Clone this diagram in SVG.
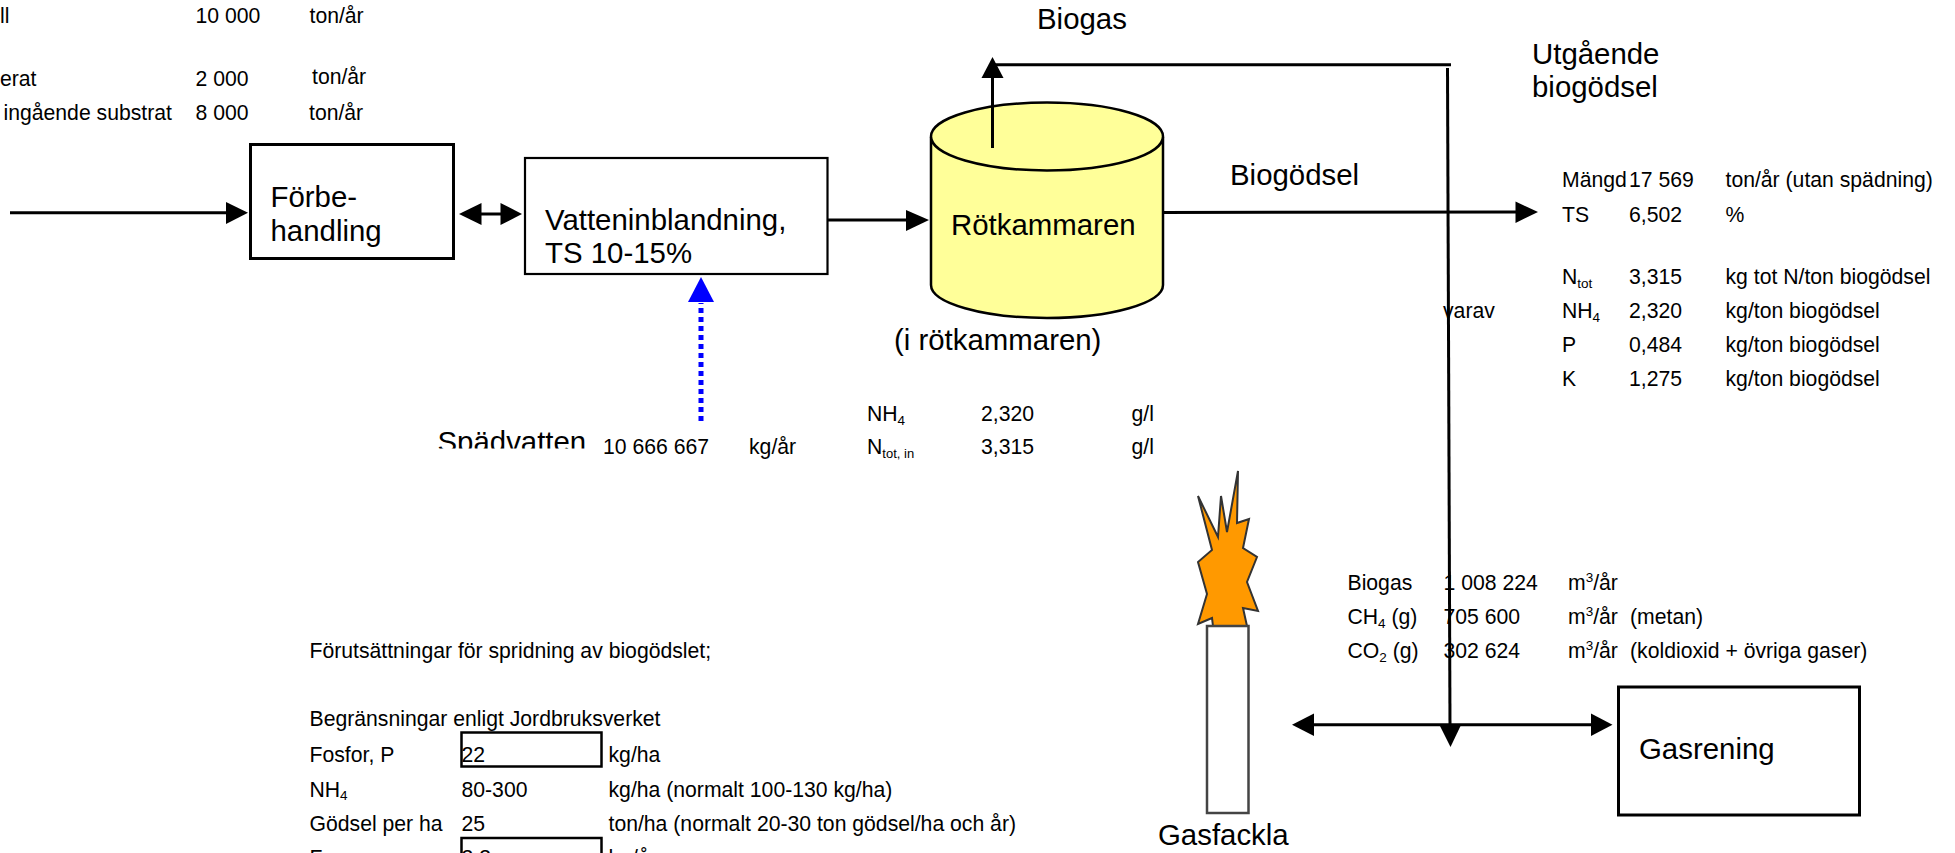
<svg xmlns="http://www.w3.org/2000/svg" width="1955" height="853" viewBox="0 0 1955 853">
<style>
text{font-family:"Liberation Sans",Arial,sans-serif;fill:#000}
.s{font-size:21.2px}
.l{font-size:29.4px}
.n{fill:#fff;stroke:#000;stroke-width:3}
.t{fill:#fff;stroke:#000;stroke-width:2.200}
.c{fill:none;stroke:#000;stroke-width:3}
.h{fill:#000;stroke:none}
.sub{font-size:13px}
.sub2{font-size:13.500px}
</style>
<defs><clipPath id="spclip"><rect x="430" y="420" width="170" height="28.500"/></clipPath></defs>
<rect width="1955" height="853" fill="#fff"/>
<g id="table-top" class="s">
<text x="0" y="22.500">ll</text><text x="195.500" y="22.500">10 000</text><text x="309.500" y="22.500">ton/år</text>
<text x="0" y="86">erat</text><text x="195.500" y="86">2 000</text><text x="312" y="84">ton/år</text>
<text x="3.500" y="120">ingående substrat</text><text x="195.500" y="120">8 000</text><text x="309" y="120">ton/år</text>
</g>
<g id="forbehandling"><rect class="n" x="250.500" y="144.500" width="203" height="114"/><text class="l"><tspan x="270.500" y="206.500">Förbe-</tspan><tspan x="270.500" y="240.500">handling</tspan></text></g>
<g id="vatteninblandning"><rect class="t" x="525" y="158" width="302.500" height="116"/><text class="l"><tspan x="545" y="230">Vatteninblandning,</tspan><tspan x="545" y="263">TS 10-15%</tspan></text></g>
<g id="rotkammaren">
<path d="M931 137V285C931 303 983 318 1047 318S1163 303 1163 285V137" fill="#ffff99" stroke="#000" stroke-width="2.500"/>
<ellipse cx="1047" cy="136.500" rx="116" ry="34" fill="#ffff99" stroke="#000" stroke-width="2.500"/>
<text class="l" x="951" y="235">Rötkammaren</text>
</g>
<g id="gasfackla">
<polygon points="1198,624 1207,594 1198,562 1212,550 1198,496 1218,537 1221,496 1227,532 1238,471 1237,523 1249,519 1243,548 1257,557 1247,582 1258,611 1243,608 1247,626 1213,626 1212,618" fill="#ff9900" stroke="#333" stroke-width="2"/>
<rect x="1207" y="626" width="41.500" height="187" fill="#fff" stroke="#444" stroke-width="2.500"/>
<text class="l" x="1158" y="845">Gasfackla</text>
</g>
<g id="gasrening"><rect class="n" x="1618.500" y="687" width="241" height="128"/><text class="l" x="1639" y="758.500">Gasrening</text></g>
<g id="connectors">
<path class="c" d="M10 212.700H228"/><polygon class="h" points="226,202 248,212.700 226,224"/>
<path class="c" d="M480 214H502"/><polygon class="h" points="481.500,203 459,214 481.500,225"/><polygon class="h" points="500.500,203 522,214 500.500,225"/>
<path class="c" d="M827 220H908"/><polygon class="h" points="906,210 929,220 906,231"/>
<path class="c" d="M992.500 148V76"/><polygon class="h" points="981.500,78 992.500,57 1003.500,78"/>
<path class="c" d="M993 64.800H1451"/>
<path class="c" d="M1447.500 68L1450 727"/><polygon class="h" points="1439.500,725 1450.500,747 1461,725"/>
<path class="c" d="M1163 212.500L1518 212"/><polygon class="h" points="1515.500,201.500 1538,212 1515.500,223"/>
<path class="c" d="M1312 724.700H1593"/><polygon class="h" points="1314,713.500 1292,724.700 1314,736"/><polygon class="h" points="1591,713.500 1612.500,724.700 1591,736"/>
<path d="M701 421V303" fill="none" stroke="#0000ff" stroke-width="5" stroke-dasharray="5 4"/><polygon points="688,302 701,277 714,302" fill="#0000ff"/>
</g>
<g id="labels">
<text class="l" x="1037" y="29">Biogas</text>
<text class="l" x="1230" y="185">Biogödsel</text>
<text class="l"><tspan x="1532" y="64">Utgående</tspan><tspan x="1532" y="97">biogödsel</tspan></text>
<text class="l" x="894" y="350">(i rötkammaren)</text>
<text class="l" x="437.500" y="451.500" clip-path="url(#spclip)">Spädvatten</text>
</g>
<g id="table-water" class="s">
<text x="603" y="454">10 666 667</text><text x="749" y="454">kg/år</text>
<text x="867" y="421">NH<tspan class="sub2" dy="3.500">4</tspan></text><text x="981" y="421">2,320</text><text x="1131.500" y="421">g/l</text>
<text x="867" y="454">N<tspan class="sub" dy="3.500">tot, in</tspan></text><text x="981" y="454">3,315</text><text x="1131.500" y="454">g/l</text>
</g>
<g id="table-biogodsel" class="s">
<text x="1562" y="187">Mängd</text><text x="1629" y="187">17 569</text><text x="1725.500" y="187">ton/år (utan spädning)</text>
<text x="1562" y="221.500">TS</text><text x="1629" y="221.500">6,502</text><text x="1725.500" y="221.500">%</text>
<text x="1562" y="284">N<tspan class="sub2" dy="3.500">tot</tspan></text><text x="1629" y="284">3,315</text><text x="1725.500" y="284">kg tot N/ton biogödsel</text>
<text x="1443" y="318">varav</text>
<text x="1562" y="318">NH<tspan class="sub2" dy="3.500">4</tspan></text><text x="1629" y="318">2,320</text><text x="1725.500" y="318">kg/ton biogödsel</text>
<text x="1562" y="351.500">P</text><text x="1629" y="351.500">0,484</text><text x="1725.500" y="351.500">kg/ton biogödsel</text>
<text x="1562" y="385.500">K</text><text x="1629" y="385.500">1,275</text><text x="1725.500" y="385.500">kg/ton biogödsel</text>
</g>
<g id="table-biogas" class="s">
<text x="1347.500" y="590">Biogas</text><text x="1443.500" y="590">1 008 224</text><text x="1568" y="590">m<tspan class="sub2" dy="-8">3</tspan><tspan dy="8">/år</tspan></text>
<text x="1347.500" y="624">CH<tspan class="sub2" dy="3.500">4</tspan><tspan dy="-3.500"> (g)</tspan></text><text x="1443.500" y="624">705 600</text><text x="1568" y="624">m<tspan class="sub2" dy="-8">3</tspan><tspan dy="8">/år</tspan></text><text x="1630" y="624">(metan)</text>
<text x="1347.500" y="658">CO<tspan class="sub2" dy="3.500">2</tspan><tspan dy="-3.500"> (g)</tspan></text><text x="1443.500" y="658">302 624</text><text x="1568" y="658">m<tspan class="sub2" dy="-8">3</tspan><tspan dy="8">/år</tspan></text><text x="1630" y="658">(koldioxid + övriga gaser)</text>
</g>
<g id="table-spridning" class="s">
<text x="309.500" y="658">Förutsättningar för spridning av biogödslet;</text>
<text x="309.500" y="726">Begränsningar enligt Jordbruksverket</text>
<text x="309.500" y="761.500">Fosfor, P</text><text x="461.500" y="761.500">22</text><text x="608.500" y="761.500">kg/ha</text>
<rect x="461.500" y="732.500" width="140" height="34" fill="none" stroke="#000" stroke-width="2.500"/>
<text x="309.500" y="796.500">NH<tspan class="sub2" dy="3.500">4</tspan></text><text x="461.500" y="796.500">80-300</text><text x="608.500" y="796.500">kg/ha (normalt 100-130 kg/ha)</text>
<text x="309.500" y="830.500">Gödsel per ha</text><text x="461.500" y="830.500">25</text><text x="608.500" y="830.500">ton/ha (normalt 20-30 ton gödsel/ha och år)</text>
<text x="309.500" y="865">F</text><text x="461.500" y="865">3,3</text><text x="608.500" y="865">ha/år</text>
<rect x="461.500" y="838" width="140" height="34" fill="none" stroke="#000" stroke-width="2.500"/>
</g>
</svg>
